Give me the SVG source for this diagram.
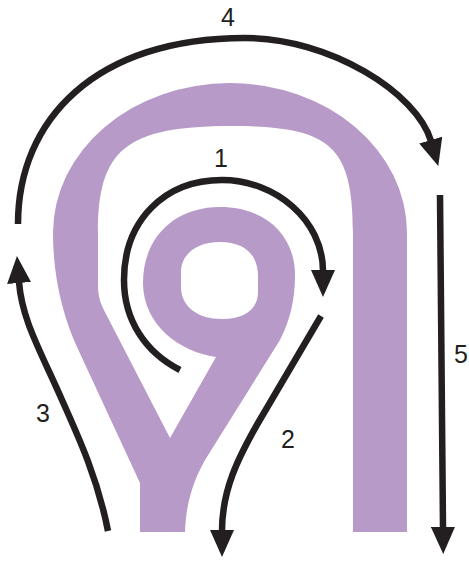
<svg xmlns="http://www.w3.org/2000/svg" width="469" height="561" viewBox="0 0 469 561">
  <style>
    .shape { fill: #b89ac8; fill-rule: evenodd; stroke: none; }
    .flow { fill: none; stroke: #231f20; stroke-width: 6.5; stroke-linecap: butt; }
    .lbl { font-family: "Liberation Sans", Arial, sans-serif; font-size: 25px; fill: #231f20; text-anchor: middle; }
  </style>
  <defs>
    <marker id="ah" viewBox="0 0 27 24" markerWidth="27" markerHeight="24" refX="1" refY="12" orient="auto" markerUnits="userSpaceOnUse">
      <path d="M0,0 L27,12 L0,24 Z" fill="#231f20"/>
    </marker>
  </defs>

  <g id="shape">
    <path class="shape" d="M140,532 L140,483 L77,347 C64,318 53,280 53,233 A177,150 0 0 1 407,233 L407,532 L353,532 L353,233 C353,145 330,126 232,126 C125,126 98,150 98,233 L98,285 C98,298 101,305 107,316 L170,438 L216,357 C180,352 143,325 143,283 C143,237 175,207 220,207 C265,207 295,235 295,275 C295,300 290,320 280,340 L205,460 C195,478 186,500 185,532 Z M220,242 C246,242 258,256 258,276 L258,292 C258,309 245,319 222,319 C197,319 181,306 181,287 L181,272 C181,254 197,242 220,242 Z"/>
  </g>

  <g id="connectors">
    <path id="arrow1" class="flow" marker-end="url(#ah)" d="M180,370 C145,352 124,320 124,280 C124,220 165,180 222,180 C275,180 323,220 323,271"/>
    <path id="arrow2" class="flow" marker-end="url(#ah)" d="M321,316 L258,423 C238,458 222,490 222,531"/>
    <path id="arrow3" class="flow" marker-end="url(#ah)" d="M108,531 C98,480 80,440 62,400 C40,350 22,320 19,282"/>
    <path id="arrow4" class="flow" marker-end="url(#ah)" d="M18,224 C18,120 95,38 245,38 C330,38 417,93 431,141"/>
    <path id="arrow5" class="flow" marker-end="url(#ah)" d="M440,195 L443,528"/>
  </g>

  <g id="labels">
    <text class="lbl" x="228" y="26">4</text>
    <text class="lbl" x="221" y="167">1</text>
    <text class="lbl" x="43" y="422">3</text>
    <text class="lbl" x="288" y="448">2</text>
    <text class="lbl" x="461" y="363">5</text>
  </g>
</svg>
